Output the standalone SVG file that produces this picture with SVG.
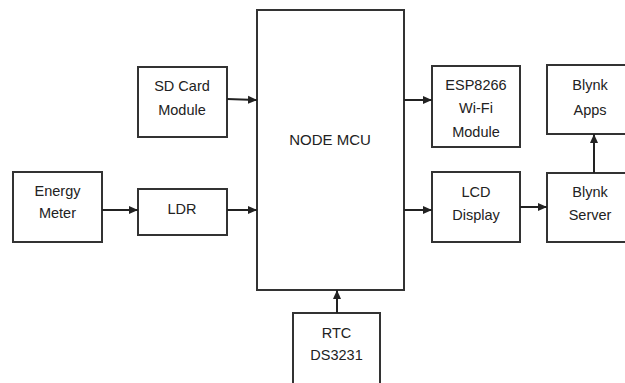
<svg xmlns="http://www.w3.org/2000/svg" width="625" height="383" viewBox="0 0 625 383">
<style>
.box{fill:#fff;stroke:#333;stroke-width:2}
.t{font-family:"Liberation Sans",Arial,sans-serif;font-size:14.5px;fill:#222;text-anchor:middle}
.c{stroke:#222;stroke-width:2;fill:none;marker-end:url(#ah)}
</style>
<defs>
<marker id="ah" markerUnits="userSpaceOnUse" markerWidth="10" markerHeight="10" refX="9" refY="5" orient="auto">
<path d="M0,1 L9,5 L0,9 Z" fill="#222"/>
</marker>
</defs>
<rect width="625" height="383" fill="#fff"/>
<g id="node-mcu"><rect class="box" x="257" y="10" width="147" height="280"/><text class="t" x="330" y="145" style="font-size:15px">NODE MCU</text></g>
<g id="sd-card"><rect class="box" x="138" y="67" width="89" height="70"/><text class="t" x="182" y="91">SD Card</text><text class="t" x="182" y="115">Module</text></g>
<g id="energy-meter"><rect class="box" x="13" y="172" width="89" height="70"/><text class="t" x="57.5" y="196">Energy</text><text class="t" x="57.5" y="218">Meter</text></g>
<g id="ldr"><rect class="box" x="138" y="189" width="89" height="46"/><text class="t" x="182" y="214">LDR</text></g>
<g id="esp8266"><rect class="box" x="432" y="66" width="88" height="81"/><text class="t" x="476" y="90">ESP8266</text><text class="t" x="476" y="113">Wi-Fi</text><text class="t" x="476" y="137">Module</text></g>
<g id="blynk-apps"><rect class="box" x="547" y="65" width="88" height="69"/><text class="t" x="590" y="90">Blynk</text><text class="t" x="590" y="115">Apps</text></g>
<g id="lcd"><rect class="box" x="432" y="172" width="88" height="70"/><text class="t" x="476" y="197">LCD</text><text class="t" x="476" y="220">Display</text></g>
<g id="blynk-server"><rect class="box" x="547" y="173" width="88" height="69"/><text class="t" x="590" y="197">Blynk</text><text class="t" x="590" y="220">Server</text></g>
<g id="rtc"><rect class="box" x="293" y="313" width="87" height="75"/><text class="t" x="336.5" y="338">RTC</text><text class="t" x="336.5" y="360">DS3231</text></g>
<g id="connectors">
<line class="c" x1="227" y1="99" x2="257" y2="100"/>
<line class="c" x1="102" y1="210" x2="138" y2="210"/>
<line class="c" x1="227" y1="210" x2="257" y2="210"/>
<line class="c" x1="404" y1="100" x2="432" y2="100"/>
<line class="c" x1="404" y1="210" x2="432" y2="210"/>
<line class="c" x1="520" y1="207" x2="547" y2="207"/>
<line class="c" x1="594" y1="173" x2="594" y2="134"/>
<line class="c" x1="337" y1="313" x2="337" y2="290"/>
</g>
</svg>
